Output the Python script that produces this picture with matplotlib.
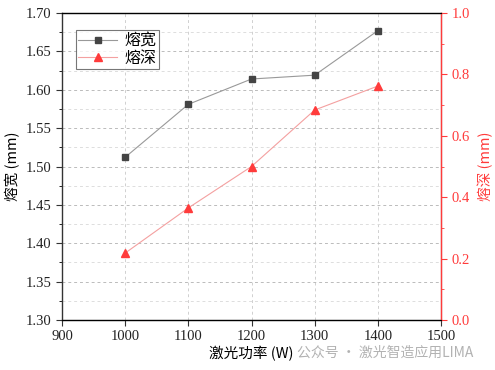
import matplotlib
matplotlib.use("Agg")
import matplotlib.pyplot as plt
from matplotlib.ticker import MultipleLocator

plt.rcParams['font.family'] = ['Noto Sans CJK SC', 'DejaVu Sans']

power = [1000, 1100, 1200, 1300, 1400]
width = [1.512, 1.581, 1.614, 1.619, 1.677]
depth = [0.218, 0.365, 0.500, 0.684, 0.762]
xticks = [900, 1000, 1100, 1200, 1300, 1400, 1500]

RED = '#ff3b3b'
tickfont = {'family': ['Liberation Serif', 'DejaVu Serif'], 'size': 10.5}

fig = plt.figure(figsize=(4.95, 3.7), dpi=100)
ax = fig.add_axes([62/495, 1-320/370, (441-62)/495, (320-13)/370])
ax2 = ax.twinx()

ax.plot(power, width, color='#999999', lw=0.8, marker='s', ms=5,
        mfc='#444444', mec='#444444', label='熔宽', zorder=3)
ax2.plot(power, depth, color='#f4a0a0', lw=0.8, marker='^', ms=6,
         mfc=RED, mec=RED, label='熔深', zorder=3)

ax.set_xlim(900, 1500)
ax.set_ylim(1.30, 1.70)
ax2.set_ylim(0.0, 1.0)
ax.set_xticks(xticks)
ax.yaxis.set_major_locator(MultipleLocator(0.05))
ax.yaxis.set_minor_locator(MultipleLocator(0.025))
ax2.yaxis.set_major_locator(MultipleLocator(0.2))
ax2.yaxis.set_minor_locator(MultipleLocator(0.1))

ax.grid(True, which='major', axis='y', ls=(0, (3, 3)), color='#bbbbbb', lw=0.7)
ax.grid(True, which='major', axis='x', ls=(0, (3, 3)), color='#d0d0d0', lw=0.7)
ax.grid(True, which='minor', axis='y', ls=(0, (3, 3)), color='#dddddd', lw=0.7)

ax.set_xticklabels([str(v) for v in xticks], fontdict=tickfont)
ax.set_yticklabels(['%.2f' % v for v in ax.get_yticks()], fontdict=tickfont)
ax.tick_params(axis='both', which='major', direction='out', length=4, color='#333333', labelcolor='#222222')
ax.tick_params(axis='y', which='minor', direction='out', length=2)
ax2.set_yticklabels(['%.1f' % v for v in ax2.get_yticks()], fontdict=tickfont)
ax2.tick_params(axis='y', which='both', colors=RED)
ax2.tick_params(axis='y', which='major', direction='out', length=4)
ax2.tick_params(axis='y', which='minor', direction='out', length=2)

for s in ['left', 'bottom', 'top']:
    ax.spines[s].set_color('#333333')
    ax.spines[s].set_linewidth(1.0)
ax2.spines['right'].set_color(RED)
ax2.spines['right'].set_linewidth(1.0)
ax2.spines['left'].set_visible(False)

ax.set_xlabel('激光功率 (W)', fontsize=10.5, labelpad=2)
ax.set_ylabel('熔宽 (mm)', fontsize=10.5, labelpad=4)
ax2.set_ylabel('熔深 (mm)', fontsize=10.5, color=RED, labelpad=6)

h1, l1 = ax.get_legend_handles_labels()
h2, l2 = ax2.get_legend_handles_labels()
leg = ax2.legend(h1 + h2, l1 + l2, loc='upper left', bbox_to_anchor=(0.037, 0.945),
                 borderaxespad=0, fontsize=11.5, frameon=True, fancybox=False,
                 edgecolor='#555555', borderpad=0.15, handlelength=2.4,
                 labelspacing=0.05, handletextpad=0.5)
leg.get_frame().set_linewidth(0.8)

fig.text(0.60, 0.035, '公众号 · 激光智造应用LIMA', fontsize=10, color='#aaaaaa', alpha=0.9)

fig.savefig('out.png', dpi=100)
